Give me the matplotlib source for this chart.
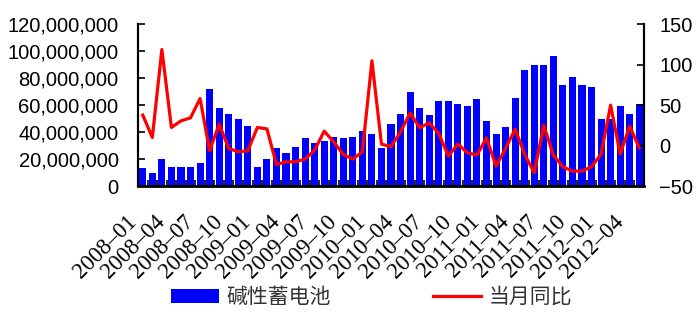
import matplotlib
matplotlib.use("Agg")
import matplotlib.pyplot as plt
from matplotlib.ticker import FuncFormatter
from matplotlib.transforms import ScaledTranslation
import numpy as np

plt.rcParams["font.family"] = ["Liberation Sans", "Noto Sans CJK SC", "DejaVu Sans"]

# 月份：2008-01 至 2012-05
months = [f"{y}-{m:02d}" for y in range(2008, 2013) for m in range(1, 13)][:53]

# 碱性蓄电池 产量（只）
output = [
    13.1e6, 9.4e6, 19.8e6, 14.3e6, 14.3e6, 14.3e6, 17.3e6, 72.3e6, 58.0e6, 53.8e6,
    50.0e6, 44.4e6, 14.3e6, 19.8e6, 27.9e6, 24.2e6, 29.1e6, 35.3e6, 31.6e6, 33.6e6,
    36.5e6, 35.3e6, 36.5e6, 41.0e6, 38.5e6, 27.9e6, 45.9e6, 53.8e6, 69.9e6, 58.0e6,
    52.6e6, 63.0e6, 63.0e6, 60.5e6, 59.3e6, 64.2e6, 48.1e6, 38.5e6, 43.5e6, 65.0e6,
    86.4e6, 90.1e6, 90.1e6, 96.3e6, 74.8e6, 80.5e6, 74.8e6, 73.6e6, 49.4e6, 50.0e6,
    59.3e6, 53.8e6, 60.5e6,
]

# 当月同比（%）
yoy = [
    37.7, 10.0, 118.7, 22.4, 30.6, 34.3, 58.2, -6.4, 26.5, -3.5,
    -7.6, -6.4, 22.4, 20.7, -23.2, -20.0, -20.0, -16.7, -5.6, 17.9,
    4.7, -10.9, -16.7, -7.6, 104.7, 1.9, -1.4, 17.0, 40.5, 22.0,
    28.2, 15.0, -13.0, 1.9, -8.8, -11.7, 9.7, -25.3, -3.5, 20.4,
    -10.9, -33.5, 25.3, -11.7, -26.1, -31.5, -31.5, -26.1, -10.5, 50.0,
    -10.5, 24.0, -2.7,
]

x = np.arange(len(months))

fig = plt.figure(figsize=(6.97, 3.22), dpi=100)
ax = fig.add_axes([0.198, 0.422, 0.726, 0.503])
ax2 = ax.twinx()

bars = ax.bar(x, output, width=0.74, color="#0000FF", zorder=2)
line, = ax2.plot(x, yoy, color="#FF0000", linewidth=2.3, zorder=3)

ax.set_xlim(-0.5, len(months) - 0.5)
ax.set_ylim(0, 120e6)
ax.set_yticks(np.arange(0, 120e6 + 1, 20e6))
ax.yaxis.set_major_formatter(FuncFormatter(lambda v, p: f"{v:,.0f}"))
ax2.set_ylim(-50, 150)
ax2.set_yticks([-50, 0, 50, 100, 150])

# 刻度标签每三个月一个，刻度线放在柱子之间
ax.set_xticks(x[::3])
ax.set_xticklabels([m.replace("-", "\u2013") for m in months[::3]], rotation=45, ha="right",
                   rotation_mode="anchor", fontsize=16.5, family="Liberation Serif")
ax.tick_params(axis="x", length=0, pad=18)
shift = ScaledTranslation(-0.17, 0, fig.dpi_scale_trans)
for lab in ax.get_xticklabels():
    lab.set_transform(lab.get_transform() + shift)
ax.set_xticks(x - 0.5, minor=True)
ax.tick_params(axis="x", which="minor", direction="in", length=4, width=1.2)

ax.tick_params(axis="y", direction="in", length=5, width=1.2, labelsize=14.5, pad=14)
ax2.tick_params(axis="y", direction="in", length=5, width=1.2, labelsize=14.5, pad=11)

for a in (ax, ax2):
    a.spines["top"].set_visible(False)
    for s in ("left", "right", "bottom"):
        a.spines[s].set_linewidth(1.5)
ax.spines["bottom"].set_linewidth(2)

fig.legend([bars, line], ["碱性蓄电池", "当月同比"], loc="center", bbox_to_anchor=(0.533, 0.078),
           ncol=2, frameon=False, handlelength=2.3, handleheight=0.65, handletextpad=0.35,
           columnspacing=4.9, labelcolor="#333333",
           prop={"family": ["Noto Sans CJK SC", "DejaVu Sans"], "size": 15})

fig.savefig("out.png", dpi=100)
